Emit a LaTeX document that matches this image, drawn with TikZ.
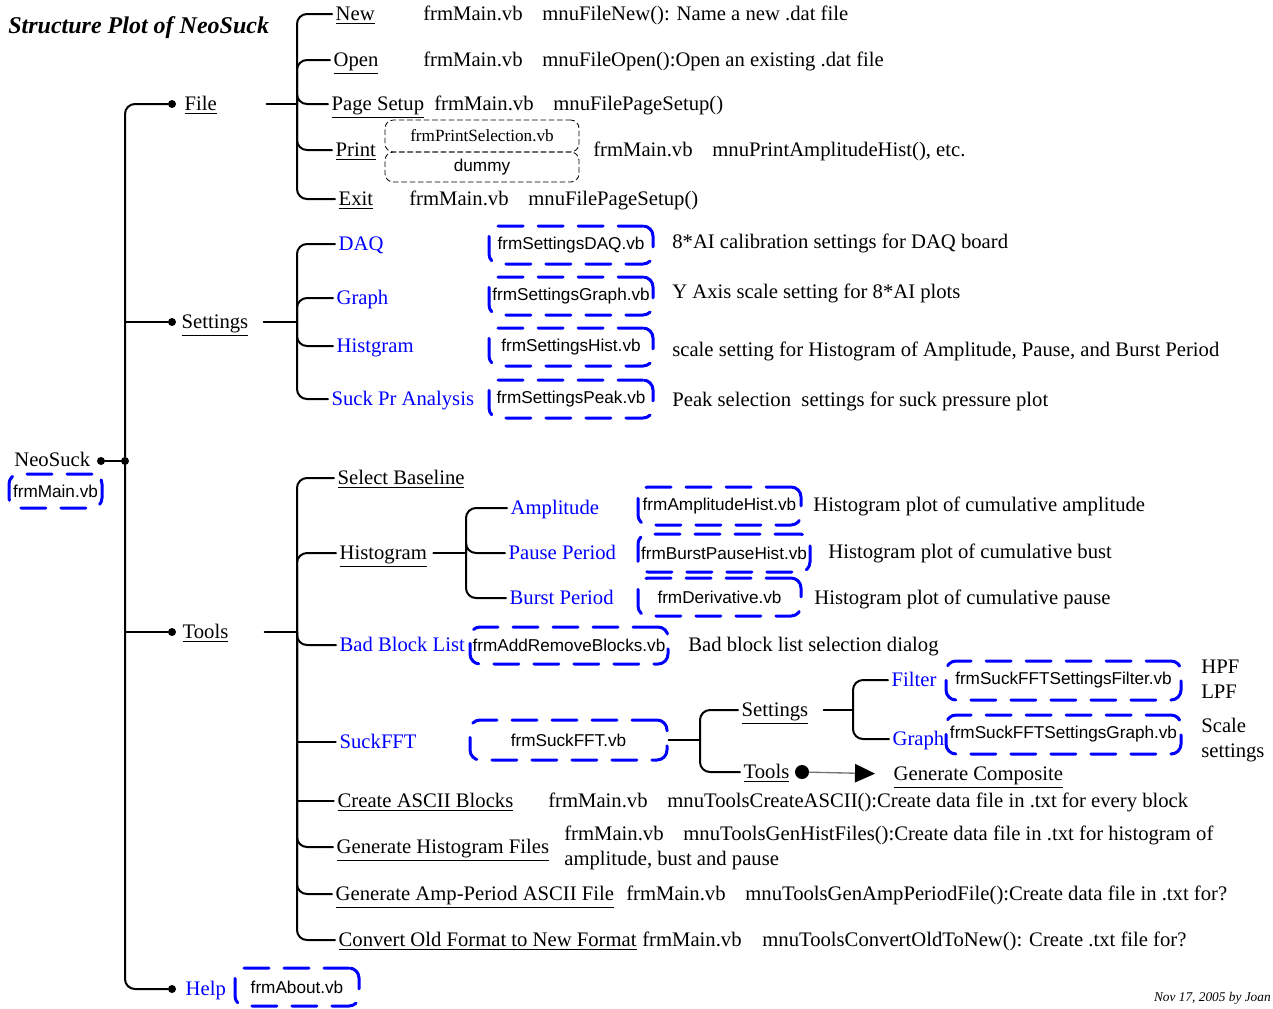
\documentclass[tikz,border=0pt]{standalone}
\usepackage{fontspec}
\setmainfont{Liberation Serif}
\setsansfont{Liberation Sans}
\usepackage{tikz}
\usetikzlibrary{arrows.meta,positioning,calc}
\definecolor{vbblue}{HTML}{0000FF}
\definecolor{ink}{HTML}{000000}

\begin{document}
\begin{tikzpicture}[x=0.6pt, y=-0.6pt,
  font=\fontsize{12.4}{14}\selectfont, line cap=round,
  tree/.style={ink, line width=1.2pt, rounded corners=6pt},
  twig/.style={ink, line width=0.7pt},
  dot/.style={circle, fill=ink, inner sep=0pt, minimum size=4.8pt},
  lbl/.style={anchor=west, inner sep=2pt, text height=9pt, text depth=1pt},
  hd/.style={lbl, text width=47pt, align=left},
  blu/.style={lbl, text=vbblue},
  txt/.style={anchor=west, inner sep=0pt, text height=9pt, text depth=1pt},
  frm/.style={draw=vbblue, line width=1.8pt, dash pattern=on 15pt off 9pt,
              rounded corners=6pt, inner sep=0pt, minimum height=38*0.6pt,
              font=\sffamily\fontsize{10.3}{12}\selectfont},
  prt/.style={draw=ink, line width=0.5pt, densely dashed, rounded corners=5pt,
              inner sep=0pt, minimum width=194*0.6pt}]

\useasboundingbox (0,0) rectangle (1273,1008);

\def\xs{297}     % spine of File / Settings / Tools
\def\xr{125}     % root spine

% ---------------------------------------------------------------- title
\node[txt, font=\bfseries\itshape\fontsize{14.4}{16}\selectfont] (title) at (8,27) {Structure Plot of NeoSuck};
\node[anchor=east, inner sep=0pt, font=\itshape\fontsize{8}{9}\selectfont] (sig) at (1271,998) {Nov 17, 2005 by Joan};

% ---------------------------------------------------------------- root
\node[txt] (neo) at (14,460) {NeoSuck};
\node[frm, minimum width=93*0.6pt, minimum height=34*0.6pt] (bmain) at (55.5,491) {frmMain.vb};
\node[dot] (ndot) at (101,461) {};
\node[dot] (rdot) at (\xr,461) {};
\node[dot] (fdot) at (172,104) {};
\node[dot] (sdot) at (172,322) {};
\node[dot] (tdot) at (172,632) {};
\node[dot] (hdot) at (172,989) {};
\draw[tree] (ndot) -- (rdot);
\draw[tree] (fdot) -| (rdot) |- (hdot);
\draw[tree] (rdot |- sdot) -- (sdot);
\draw[tree] (rdot |- tdot) -- (tdot);

% ================================================================ File
\node[hd] (file) at (181,104) {\underline{File}};
\coordinate (fj) at (\xs,104);
\draw[tree] (file.east) -- (fj);

\node[lbl] (fnew)   at (332,14)  {\underline{New}};
\node[lbl] (fopen)  at (330,60)  {\underline{Open}};
\node[lbl] (fpage)  at (328,104) {\underline{Page Setup}};
\node[lbl] (fprint) at (332,150) {\underline{Print}};
\node[lbl] (fexit)  at (335,199) {\underline{Exit}};
\foreach \n in {fnew,fopen,fpage,fprint,fexit}
  \draw[tree] (fj) |- (\n.west);

\node[txt] (fnewf)  at (423,14)  {frmMain.vb};
\node[txt] (fnewm)  at (542,14)  {mnuFileNew(): Name a new .dat file};
\node[txt] (fopenf) at (423,60)  {frmMain.vb};
\node[txt] (fopenm) at (542,60)  {mnuFileOpen():Open an existing .dat file};
\node[txt] (fpagef) at (434,104) {frmMain.vb};
\node[txt] (fpagem) at (553,104) {mnuFilePageSetup()};
\node[prt, minimum height=32*0.6pt, font=\fontsize{10.3}{12}\selectfont] (psel) at (482,136) {frmPrintSelection.vb};
\node[prt, minimum height=30*0.6pt, font=\sffamily\fontsize{10.3}{12}\selectfont] (pdum) at (482,167) {dummy};
\node[txt] (fprintf) at (593,150) {frmMain.vb};
\node[txt] (fprintm) at (712,150) {mnuPrintAmplitudeHist(), etc.};
\node[txt] (fexitf) at (409,199) {frmMain.vb};
\node[txt] (fexitm) at (528,199) {mnuFilePageSetup()};

% ================================================================ Settings
\node[hd] (settings) at (178,322) {\underline{Settings}};
\coordinate (sj) at (\xs,322);
\draw[tree] (settings.east) -- (sj);

\node[blu] (sdaq)   at (335,244) {DAQ};
\node[blu] (sgraph) at (333,298) {Graph};
\node[blu] (shist)  at (333,346) {Histgram};
\node[blu] (speak)  at (328,399) {Suck Pr Analysis};
\foreach \n in {sdaq,sgraph,shist,speak}
  \draw[tree] (sj) |- (\n.west);

\node[frm, minimum width=164*0.6pt] (bdaq)   at (571,245) {frmSettingsDAQ.vb};
\node[frm, minimum width=164*0.6pt] (bgraph) at (571,296) {frmSettingsGraph.vb};
\node[frm, minimum width=164*0.6pt] (bhist)  at (571,347) {frmSettingsHist.vb};
\node[frm, minimum width=164*0.6pt] (bpeak)  at (571,399) {frmSettingsPeak.vb};

\node[txt] (ddaq)   at (672,242) {8*AI calibration settings for DAQ board};
\node[txt] (dgraph) at (672,292) {Y Axis scale setting for 8*AI plots};
\node[txt] (dhist)  at (672,350) {scale setting for Histogram of Amplitude, Pause, and Burst Period};
\node[txt] (dpeak)  at (672,400) {Peak selection\ \ settings for suck pressure plot};

% ================================================================ Tools
\node[hd] (tools) at (179,632) {\underline{Tools}};
\coordinate (tj) at (\xs,632);
\draw[tree] (tools.east) -- (tj);

\node[lbl] (tbase) at (334,478) {\underline{Select Baseline}};
\node[hd, text width=54pt] (thist) at (336,553) {\underline{Histogram}};
\node[blu] (tbad)  at (336,645) {Bad Block List};
\node[blu] (tfft)  at (336,742) {SuckFFT};
\node[lbl] (tasc)  at (334,801) {\underline{Create ASCII Blocks}};
\node[lbl] (tgen)  at (333,847) {\underline{Generate Histogram Files}};
\node[lbl] (tamp)  at (332,894) {\underline{Generate Amp-Period ASCII File}};
\node[lbl] (tconv) at (335,940) {\underline{Convert Old Format to New Format}};
\foreach \n in {tbase,thist,tbad,tgen,tamp,tconv}
  \draw[tree] (tj) |- (\n.west);
\draw[twig] (tj |- tfft) -- (tfft.west);
\draw[twig] (tj |- tasc) -- (tasc.west);

% ---------------------------------------------------------------- Tools > Histogram
\coordinate (hj) at (466,553);
\draw[tree] (thist.east) -- (hj);
\node[blu] (hamp)   at (507,508) {Amplitude};
\node[blu] (hpause) at (505,553) {Pause Period};
\node[blu] (hburst) at (506,598) {Burst Period};
\foreach \n in {hamp,hpause,hburst}
  \draw[tree] (hj) |- (\n.west);

\node[frm, minimum width=163*0.6pt] (bamp)   at (719.5,506) {frmAmplitudeHist.vb};
\node[frm, minimum width=172*0.6pt] (bpause) at (724,553)   {frmBurstPauseHist.vb};
\node[frm, minimum width=163*0.6pt] (bburst) at (719.5,597) {frmDerivative.vb};
\node[txt] (damp)   at (813,505) {Histogram plot of cumulative amplitude};
\node[txt] (dpause) at (828,552) {Histogram plot of cumulative bust};
\node[txt] (dburst) at (814,598) {Histogram plot of cumulative pause};

% ---------------------------------------------------------------- Tools > Bad Block List
\node[frm, minimum width=198*0.6pt, minimum height=37*0.6pt] (bbad) at (569,645.5) {frmAddRemoveBlocks.vb};
\node[txt] (dbad) at (688,645) {Bad block list selection dialog};

% ---------------------------------------------------------------- Tools > SuckFFT
\node[frm, minimum width=197*0.6pt, minimum height=40*0.6pt] (bfft) at (568.5,740) {frmSuckFFT.vb};
\coordinate (xj) at (700,740);
\draw[tree] (bfft.east) -- (xj);
\node[hd] (xset) at (738,710) {\underline{Settings}};
\node[lbl] (xtool) at (740,772) {\underline{Tools}};
\foreach \n in {xset,xtool}
  \draw[tree] (xj) |- (\n.west);

\coordinate (yj) at (853,710);
\draw[tree] (xset.east) -- (yj);
\node[blu] (yfil) at (888,680) {Filter};
\node[blu] (ygra) at (889,739) {Graph};
\foreach \n in {yfil,ygra}
  \draw[tree] (yj) |- (\n.west);
\node[frm, minimum width=235*0.6pt, minimum height=39*0.6pt] (bfil) at (1063.5,680.5) {frmSuckFFTSettingsFilter.vb};
\node[frm, minimum width=235*0.6pt, minimum height=39*0.6pt] (bgra) at (1063.5,734.5) {frmSuckFFTSettingsGraph.vb};
\node[txt] (dhpf) at (1201,667) {HPF};
\node[txt] (dlpf) at (1201,692) {LPF};
\node[txt] (dsca) at (1201,726) {Scale};
\node[txt] (dset) at (1201,751) {settings};

\node[dot, minimum size=8.4pt] (xdot) at (802,772) {};
\node[lbl] (xcomp) at (890,774) {\underline{Generate Composite}};
\draw[ink!55, line width=0.8pt, -{Triangle[length=12pt, width=11pt, color=ink]}, shorten >=9pt] (xdot) -- (xcomp.west);

% ---------------------------------------------------------------- Tools > file rows
\node[txt] (dascf) at (548,801) {frmMain.vb};
\node[txt] (dascm) at (667,801) {mnuToolsCreateASCII():Create data file in .txt for every block};
\node[txt] (dgenf) at (564,834) {frmMain.vb};
\node[txt] (dgenm) at (683,834) {mnuToolsGenHistFiles():Create data file in .txt for histogram of};
\node[txt] (dgen2) at (564,859) {amplitude, bust and pause};
\node[txt] (dampf) at (626,894) {frmMain.vb};
\node[txt] (dampm) at (745,894) {mnuToolsGenAmpPeriodFile():Create data file in .txt for?};
\node[txt] (dconf) at (642,940) {frmMain.vb};
\node[txt] (dconm) at (762,940) {mnuToolsConvertOldToNew(): Create .txt file for?};

% ================================================================ Help
\node[blu] (help) at (182,989) {Help};
\node[frm, minimum width=124*0.6pt] (babout) at (297,987) {frmAbout.vb};

\end{tikzpicture}
\end{document}
